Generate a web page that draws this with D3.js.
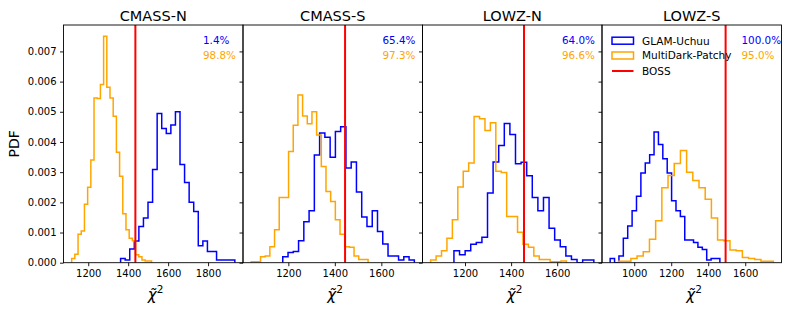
<!DOCTYPE html>
<html><head><meta charset="utf-8">
<script src="https://cdn.jsdelivr.net/npm/d3@7"></script>
<style>body{margin:0;background:#fff} text{font-family:"DejaVu Sans",sans-serif}</style>
</head><body><svg id="c" width="789" height="312"></svg>
<script>
// ---------------- data ----------------
const panels = ["CMASS-N", "CMASS-S", "LOWZ-N", "LOWZ-S"];
const bossChi2 = [1436, 1444, 1456, 1494];
const seriesNames = ["GLAM-Uchuu", "MultiDark-Patchy", "BOSS"];

// GLAM-Uchuu histograms: [min, max] of the 25 bins and PDF value per bin
const glamRange = [[1362, 1934], [1176, 1742], [1152, 1759], [870, 1463]];
const glamPDF = [
  [0.00014,0.00009,0.00045,0.00072,0.0012,0.00148,0.002,0.00309,0.00494,0.00445,0.00428,0.00456,0.005,0.00325,0.00266,0.002,0.0017,0.00056,0.00072,0.00037,0.00037,0.00009,0.00009,0.00009,0.00009],
  [0.0002,0.00034,0.00037,0.00073,0.00136,0.00172,0.00357,0.0043,0.00416,0.00349,0.00435,0.0045,0.00314,0.00334,0.00234,0.00151,0.0012,0.00172,0.00103,0.00062,0.00022,0.00022,0.00009,0.0002,0.00009],
  [0.0004,0.00026,0.0004,0.00061,0.00067,0.00084,0.00231,0.00334,0.00388,0.00461,0.00425,0.00328,0.00333,0.00288,0.00216,0.00172,0.00216,0.00114,0.00075,0.00053,0.00022,0.00011,0,0.00009,0.00009],
  [0.00014,0,0.00022,0.00081,0.00122,0.00172,0.0022,0.00297,0.0033,0.00358,0.00433,0.00392,0.00344,0.00297,0.00205,0.00172,0.00153,0.00075,0.00075,0.00067,0.00051,0.00044,0.00009,0.00014,0.00014]
];
// MultiDark-Patchy histograms
const patchyRange = [[1117, 1517], [1040, 1543], [1051, 1640], [915, 1752]];
const patchyPDF = [
  [0.00014,0.00028,0.00094,0.00105,0.00194,0.0025,0.0034,0.00546,0.00544,0.0059,0.0075,0.00581,0.00546,0.00485,0.00366,0.00286,0.00162,0.00109,0.00081,0.00073,0.00026,0.0002,0.00009,0.00006,0.00006],
  [0.00003,0.00003,0.0002,0.00022,0.00053,0.00109,0.00216,0.00216,0.00368,0.00455,0.00556,0.00486,0.0046,0.005,0.00423,0.00319,0.00236,0.00203,0.00142,0.00094,0.00053,0.00051,0.00022,0.00011,0.00011],
  [0.00009,0.00022,0.0004,0.00081,0.00142,0.00251,0.00303,0.0033,0.00484,0.00477,0.00438,0.00464,0.00303,0.00299,0.00153,0.00153,0.00101,0.00061,0.00051,0.00022,0.00011,0.00011,0.00003,0.00003,0.00006],
  [0.00005,0.00005,0.00014,0.00022,0.00036,0.00078,0.00139,0.00248,0.00289,0.00329,0.00372,0.003,0.00272,0.00248,0.0021,0.00148,0.00075,0.00073,0.00042,0.0004,0.00017,0.00014,0.00011,0.00005,0.00005]
];
const glamPct = ["1.4%", "65.4%", "64.0%", "100.0%"];
const patchyPct = ["98.8%", "97.3%", "96.6%", "95.0%"];
const xTicks = [[1200,1400,1600,1800],[1200,1400,1600],[1200,1400,1600],[1000,1200,1400,1600]];
const yTicks = [0, 0.001, 0.002, 0.003, 0.004, 0.005, 0.006, 0.007];

// ---------------- layout ----------------
const BLUE = "#0000ff", ORANGE = "#ffa500", RED = "#ff0000";
const axL = 63.5, axR = 781.5, axT = 25, axB = 262.7;
const pw = (axR - axL) / panels.length;
const svg = d3.select("#c");

const allMax = d3.max(glamPDF.concat(patchyPDF).flat());
const yScale = d3.scaleLinear().domain([0, allMax * 1.05]).range([axB, axT]);

function histPoints(range, vals) {
  const n = vals.length, w = (range[1] - range[0]) / n;
  const pts = [[range[0], 0]];
  vals.forEach((v, i) => { pts.push([range[0] + i * w, v]); pts.push([range[0] + (i + 1) * w, v]); });
  pts.push([range[1], 0]);
  return pts;
}

panels.forEach((name, p) => {
  const x0 = axL + p * pw;
  const lo = Math.min(glamRange[p][0], patchyRange[p][0]);
  const hi = Math.max(glamRange[p][1], patchyRange[p][1]);
  const m = (hi - lo) * 0.05;
  const x = d3.scaleLinear().domain([lo - m, hi + m]).range([x0, x0 + pw]);
  const g = svg.append("g");
  const clipId = "clip" + p;
  svg.append("clipPath").attr("id", clipId).append("rect")
    .attr("x", x0).attr("y", axT).attr("width", pw).attr("height", axB - axT);
  const plot = g.append("g").attr("clip-path", `url(#${clipId})`);
  const line = d3.line().x(d => x(d[0])).y(d => yScale(d[1]));
  plot.append("path").attr("d", line(histPoints(glamRange[p], glamPDF[p])))
    .attr("fill", "none").attr("stroke", BLUE).attr("stroke-width", 1.5);
  plot.append("path").attr("d", line(histPoints(patchyRange[p], patchyPDF[p])))
    .attr("fill", "none").attr("stroke", ORANGE).attr("stroke-width", 1.5);
  plot.append("line").attr("x1", x(bossChi2[p])).attr("x2", x(bossChi2[p]))
    .attr("y1", axT).attr("y2", axB).attr("stroke", RED).attr("stroke-width", 2);

  // axes
  const xa = g.append("g").attr("transform", `translate(0,${axB})`)
    .call(d3.axisBottom(x).tickValues(xTicks[p]).tickSize(3.5).tickPadding(3.5).tickFormat(d3.format("d")));
  xa.select(".domain").remove();
  xa.selectAll("text").attr("font-size", 10).attr("font-family", "DejaVu Sans").attr("fill", "#000");
  xa.selectAll("line").attr("stroke", "#000").attr("stroke-width", 0.9);
  const ya = g.append("g").attr("transform", `translate(${x0},0)`)
    .call(d3.axisLeft(yScale).tickValues(yTicks).tickSize(3.5).tickPadding(3.5)
      .tickFormat(p === 0 ? d3.format(".3f") : () => ""));
  ya.select(".domain").remove();
  ya.selectAll("text").attr("font-size", 10).attr("font-family", "DejaVu Sans").attr("fill", "#000");
  ya.selectAll("line").attr("stroke", "#000").attr("stroke-width", 0.9);

  // frame
  g.append("rect").attr("x", x0).attr("y", axT).attr("width", pw).attr("height", axB - axT)
    .attr("fill", "none").attr("stroke", "#000").attr("stroke-width", 0.9);

  // title
  g.append("text").attr("x", x0 + pw / 2).attr("y", 20.5).attr("text-anchor", "middle")
    .attr("font-size", 14.5).text(name);

  // percentages
  const tx = x0 + pw * 0.777;
  g.append("text").attr("x", tx).attr("y", 43.8).attr("font-size", 10.4).attr("fill", BLUE).text(glamPct[p]);
  g.append("text").attr("x", tx).attr("y", 59).attr("font-size", 10.4).attr("fill", ORANGE).text(patchyPct[p]);

  // x label: chi-tilde squared (combining tilde, single text element)
  const cx = x0 + pw / 2;
  const xl = g.append("text").attr("x", cx - 5.5).attr("y", 300).attr("font-size", 15);
  xl.append("tspan").attr("font-style", "italic").text("\u03C7\u0303");
  xl.append("tspan").attr("dy", -7).attr("font-size", 10.5).text("2");
});

// y label
svg.append("text").attr("transform", `translate(19,${(axT + axB) / 2}) rotate(-90)`)
  .attr("text-anchor", "middle").attr("font-size", 14).text("PDF");

// legend (in last panel)
const lx = axL + 3 * pw + 10;
const lg = svg.append("g");
const rows = [40.7, 55.5, 71];
lg.append("rect").attr("x", lx).attr("y", rows[0] - 3.5).attr("width", 21.5).attr("height", 7)
  .attr("fill", "none").attr("stroke", BLUE).attr("stroke-width", 1.5);
lg.append("rect").attr("x", lx).attr("y", rows[1] - 3.5).attr("width", 21.5).attr("height", 7)
  .attr("fill", "none").attr("stroke", ORANGE).attr("stroke-width", 1.5);
lg.append("line").attr("x1", lx).attr("x2", lx + 21.5).attr("y1", rows[2]).attr("y2", rows[2])
  .attr("stroke", RED).attr("stroke-width", 2);
seriesNames.forEach((s, i) => {
  lg.append("text").attr("x", lx + 30).attr("y", rows[i] + 3.8).attr("font-size", 10.5).text(s);
});
</script></body></html>
